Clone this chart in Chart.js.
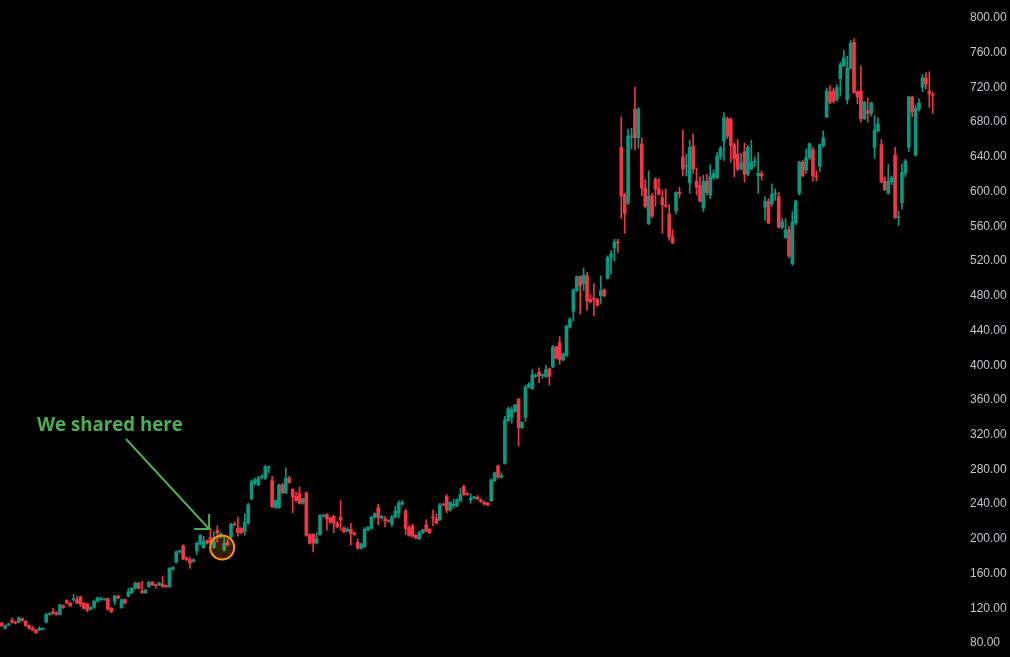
<!DOCTYPE html>
<html>
<head>
<meta charset="utf-8">
<script src="https://cdn.jsdelivr.net/npm/chart.js@4.4.1/dist/chart.umd.min.js"></script>
<style>
  html, body { margin: 0; padding: 0; background: #000; }
  canvas { display: block; }
</style>
</head>
<body>
<canvas id="chart" width="1010" height="657"></canvas>
<script>
// OHLC, one entry per candle, left to right
const open = [
  103,97,101,106,104,104,108,105,100,97,
  95,95,96,104,113,116,115,113,123,129,
  126,130,130,133,126,125,119,121,128,130,
  130,131,120,128,134,121,130,134,138,143,
  149,140,138,145,150,147,147,148,146,145,
  165,173,185,192,178,176,174,186,194,190,
  198,202,190,210,202,187,196,202,217,212,
  212,208,218,246,264,262,271,270,282,267,
  236,236,262,253,270,257,249,252,241,253,
  205,205,195,205,226,228,224,226,218,225,
  212,209,211,207,196,189,191,210,212,225,
  236,224,223,221,217,225,230,240,232,213,
  215,204,200,207,216,211,225,223,222,240,
  249,233,238,238,244,260,252,245,247,248,
  245,242,241,244,267,284,271,287,336,340,
  347,361,328,340,375,373,387,392,388,387,
  396,398,421,426,406,411,444,462,486,502,
  494,503,476,477,476,480,487,500,524,535,
  542,651,596,587,663,695,662,655,604,563,
  595,614,603,593,584,574,548,578,599,640,
  629,610,652,612,607,581,612,596,616,616,
  640,658,684,683,654,643,626,646,620,626,
  634,618,621,582,589,586,597,594,559,547,
  556,517,564,598,634,625,639,648,618,629,
  653,686,715,716,706,730,745,706,742,772,
  715,716,684,693,690,651,670,654,612,598,
  611,642,570,587,621,651,709,642,695,720,
  731,716,712
];
const high = [
  104,101,103,109,105,110,109,106,101,99,
  96,99,97,114,115,120,116,125,124,130,
  127,136,134,134,127,126,122,129,133,133,
  131,132,121,135,135,131,131,143,144,150,
  150,151,142,151,151,148,150,157,147,167,
  168,186,187,193,179,179,177,196,205,203,
  199,212,208,215,207,203,200,218,219,225,
  213,229,241,268,270,272,274,285,284,272,
  245,263,264,282,272,258,254,260,247,254,
  206,206,207,228,228,229,225,227,220,244,
  214,213,218,208,200,195,213,214,226,230,
  240,227,226,222,227,238,244,244,234,215,
  217,205,209,211,222,212,233,229,241,241,
  251,243,246,246,258,262,253,252,249,250,
  246,243,242,269,277,285,276,341,352,352,
  355,362,335,377,380,395,390,397,390,400,
  397,423,422,433,414,446,455,488,503,503,
  512,507,481,494,477,503,488,526,532,545,
  545,686,598,672,673,720,697,662,614,624,
  598,616,615,601,603,585,556,600,605,671,
  643,659,666,627,617,619,620,631,625,645,
  652,691,686,685,656,660,644,656,653,659,
  640,645,624,594,592,609,603,599,569,569,
  560,577,590,635,636,649,656,651,624,655,
  670,719,722,719,723,749,763,756,774,776,
  716,745,704,708,703,688,685,660,617,631,
  618,651,578,632,637,710,710,700,707,735,
  737,738,714
];
const low = [
  99,96,100,103,102,103,105,99,96,94,
  91,94,95,103,112,113,112,112,120,125,
  122,128,125,122,119,116,118,120,127,129,
  129,118,115,124,131,120,125,133,137,142,
  142,137,137,144,146,143,146,144,144,144,
  164,172,184,176,175,166,173,182,193,189,
  194,195,189,196,201,186,192,201,215,203,
  206,204,217,245,262,261,269,268,276,236,
  235,235,252,252,264,230,243,240,240,203,
  194,185,194,204,225,210,218,207,213,210,
  207,208,193,204,188,188,190,209,211,224,
  216,223,214,219,214,224,224,239,205,203,
  202,200,199,206,208,206,215,217,221,238,
  230,232,235,237,243,250,250,241,246,245,
  242,239,238,243,266,270,270,286,335,333,
  346,307,327,335,374,372,386,380,385,386,
  377,397,407,401,405,410,443,451,485,459,
  486,463,472,457,468,471,479,499,505,520,
  530,569,552,585,649,648,650,595,581,562,
  570,583,596,552,582,544,540,574,593,618,
  618,598,621,596,588,577,596,592,614,615,
  637,636,661,634,617,624,625,611,618,625,
  629,598,613,567,563,583,590,558,557,546,
  524,515,562,596,617,621,637,612,612,623,
  651,685,701,702,704,710,744,701,741,713,
  701,680,683,680,687,638,669,610,601,597,
  608,569,561,580,617,646,686,641,693,715,
  718,697,690
];
const close = [
  100,100,102,104,103,109,106,100,97,95,
  92,97,97,113,114,114,113,124,121,126,
  123,131,126,125,120,118,121,128,132,131,
  131,119,116,134,132,130,126,139,143,149,
  143,138,141,150,147,146,149,145,145,166,
  167,185,186,177,176,172,176,195,204,197,
  195,196,197,207,206,195,193,217,216,207,
  207,219,239,266,268,270,272,283,283,237,
  244,262,253,270,265,248,244,241,246,204,
  195,195,200,227,227,223,219,218,214,222,
  208,211,206,205,189,194,211,213,225,229,
  224,226,221,220,225,232,241,242,212,204,
  203,201,207,210,209,207,224,218,239,239,
  233,242,240,245,251,251,251,247,248,246,
  243,240,239,268,276,271,273,337,350,349,
  354,328,334,375,378,389,388,388,389,395,
  387,421,408,406,413,445,453,487,502,492,
  504,474,473,476,469,486,480,524,528,542,
  541,595,575,664,664,662,695,604,583,595,
  572,603,597,585,583,548,541,599,598,626,
  630,651,626,605,589,612,599,617,621,641,
  650,685,664,653,638,626,633,620,651,634,
  635,621,618,589,564,597,598,559,565,556,
  526,565,589,634,618,639,655,618,617,654,
  662,716,703,704,720,746,754,742,771,714,
  709,684,703,690,702,671,678,611,602,612,
  616,570,571,622,635,709,692,696,702,731,
  724,713,711
];
const yTicks = [80,120,160,200,240,280,320,360,400,440,480,520,560,600,640,680,720,760,800];
const emptySlots = 6;   // blank space right of the last candle
const labels = [];
for (let i = 0; i < open.length + emptySlots; i++) labels.push(String(i + 1));

const UP = '#089981';
const DOWN = '#f23645';
const colors = open.map((o, i) => close[i] >= o ? UP : DOWN);

// note / arrow / circle anchored on data coordinates
const note = { text: 'We shared here', x: 10.3, y: 324.5 };
const arrowFrom = { x: 36.3, y: 315 };
const arrowTo = { x: 60.6, y: 211.3 };
const marker = { x: 64.4, y: 190 };

const bgPlugin = {
  id: 'bg',
  beforeDraw(chart) {
    const ctx = chart.ctx;
    ctx.save();
    ctx.fillStyle = '#000';
    ctx.fillRect(0, 0, chart.width, chart.height);
    ctx.restore();
  }
};

const notePlugin = {
  id: 'note',
  afterDatasetsDraw(chart) {
    const ctx = chart.ctx;
    const xs = chart.scales.x, ys = chart.scales.y;
    ctx.save();

    // circle
    const cx = xs.getPixelForValue(marker.x), cy = ys.getPixelForValue(marker.y);
    ctx.beginPath();
    ctx.arc(cx, cy, 12, 0, Math.PI * 2);
    ctx.fillStyle = 'rgba(255,152,0,0.2)';
    ctx.fill();
    ctx.lineWidth = 2;
    ctx.strokeStyle = '#ff9800';
    ctx.stroke();

    // arrow
    const x1 = xs.getPixelForValue(arrowFrom.x), y1 = ys.getPixelForValue(arrowFrom.y);
    const x2 = xs.getPixelForValue(arrowTo.x), y2 = ys.getPixelForValue(arrowTo.y);
    ctx.strokeStyle = '#4caf50';
    ctx.lineWidth = 2;
    ctx.beginPath();
    ctx.moveTo(x1, y1);
    ctx.lineTo(x2, y2);
    ctx.moveTo(x2 - 15, y2);
    ctx.lineTo(x2, y2);
    ctx.lineTo(x2, y2 - 15);
    ctx.stroke();

    // text, sized to the width it has in the picture
    let size = 18;
    ctx.font = 'bold ' + size + 'px "Open Sans"';
    size = size * 146 / ctx.measureText(note.text).width;
    ctx.font = 'bold ' + size.toFixed(1) + 'px "Open Sans"';
    ctx.fillStyle = '#4caf50';
    ctx.textBaseline = 'alphabetic';
    ctx.fillText(note.text, xs.getPixelForValue(note.x), ys.getPixelForValue(note.y));
    ctx.restore();
  }
};

new Chart(document.getElementById('chart'), {
  type: 'bar',
  data: {
    labels: labels,
    datasets: [
      {
        label: 'wick',
        data: high.map((h, i) => [low[i], h]),
        backgroundColor: colors,
        barThickness: 1,
        grouped: false,
        order: 2
      },
      {
        label: 'body',
        data: open.map((o, i) => [Math.min(o, close[i]), Math.max(o, close[i])]),
        backgroundColor: colors,
        barThickness: 3,
        minBarLength: 1,
        grouped: false,
        order: 1
      }
    ]
  },
  options: {
    responsive: false,
    devicePixelRatio: 1,
    animation: false,
    layout: { padding: 0 },
    plugins: {
      legend: { display: false },
      tooltip: { enabled: false }
    },
    scales: {
      x: {
        display: false,
        offset: true
      },
      y: {
        position: 'right',
        min: 63.9,
        max: 820.7,
        grid: { display: false, drawTicks: false },
        border: { display: false },
        afterBuildTicks: axis => { axis.ticks = yTicks.map(v => ({ value: v })); },
        afterFit: axis => {
          axis.width = 55;
          axis.paddingTop = 0;
          axis.paddingBottom = 0;
        },
        ticks: {
          color: '#c5c7cc',
          padding: 15,
          font: { family: 'Liberation Sans', size: 12 },
          callback: v => Number(v).toFixed(2)
        }
      }
    }
  },
  plugins: [bgPlugin, notePlugin]
});
</script>
</body>
</html>
